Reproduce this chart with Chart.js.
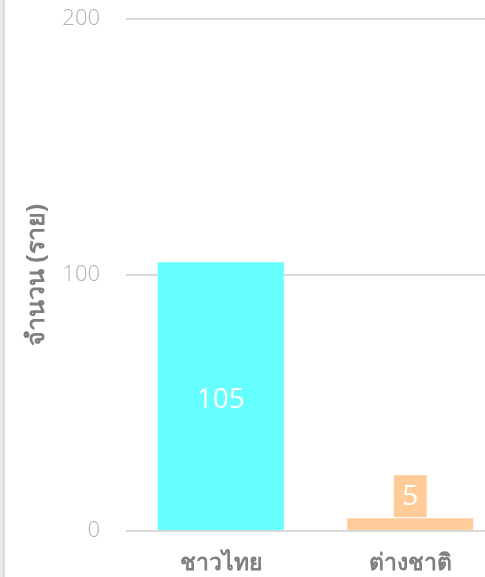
<!DOCTYPE html>
<html>
<head>
<meta charset="utf-8">
<script src="https://cdn.jsdelivr.net/npm/chart.js@4"></script>
<style>
html,body{margin:0;padding:0;background:#fff;overflow:hidden;width:485px;height:577px;}
#wrap{position:absolute;left:0;top:-20px;width:505px;height:597px;}
#edge{position:absolute;left:0;top:0;width:3px;height:577px;background:#ece9e5;border-right:2px solid #dedad5;z-index:2;}
</style>
</head>
<body>
<div id="edge"></div>
<div id="wrap"><canvas id="c" width="505" height="597"></canvas></div>
<script>
const categories = ["ชาวไทย", "ต่างชาติ"];
const values = [105, 5];
const barColors = ["#66ffff", "#ffcc99"];
const yTicks = [0, 100, 200];
const axisTitle = "จำนวน (ราย)";

const FONT = "'Open Sans', 'Noto Sans', 'DejaVu Sans', sans-serif";

const labelPlugin = {
  id: 'valueLabels',
  afterDatasetsDraw(chart) {
    const ctx = chart.ctx;
    const meta = chart.getDatasetMeta(0);
    ctx.save();
    ctx.font = "28px " + FONT;
    ctx.textAlign = 'center';
    ctx.textBaseline = 'middle';
    meta.data.forEach((bar, i) => {
      const txt = String(values[i]);
      const h = bar.base - bar.y;
      const boxH = 42, boxW = ctx.measureText(txt).width + 17;
      let cy;
      if (h >= boxH) {
        cy = bar.y + h / 2 + 3;
      } else {
        cy = bar.y - 1 - boxH / 2;
      }
      ctx.fillStyle = barColors[i];
      ctx.fillRect(bar.x - boxW / 2, cy - boxH / 2, boxW, boxH);
      ctx.fillStyle = '#ffffff';
      ctx.fillText(txt, bar.x, cy + 1);
    });
    ctx.restore();
  }
};

new Chart(document.getElementById('c'), {
  type: 'bar',
  data: {
    labels: categories,
    datasets: [{
      data: values,
      backgroundColor: barColors,
      borderWidth: 0,
      categoryPercentage: 1,
      barPercentage: 0.665
    }]
  },
  options: {
    responsive: false,
    animation: false,
    events: [],
    layout: { padding: { top: 0, right: 0, left: 0, bottom: 0 } },
    plugins: { legend: { display: false }, tooltip: { enabled: false } },
    scales: {
      x: {
        grid: { display: false, drawTicks: false },
        border: { display: false },
        ticks: { color: '#7f7f7f', font: { family: FONT, size: 23, weight: '600' }, padding: 19 },
        afterFit(s) { s.height = 46; }
      },
      y: {
        min: 0, max: 200,
        afterBuildTicks(s) { s.ticks = yTicks.map(v => ({ value: v })); },
        grid: { color: '#d9d9d9', lineWidth: 2, drawTicks: false },
        border: { display: false },
        ticks: { color: '#b0b0b0', font: { family: FONT, size: 22, weight: '300' }, padding: 26 },
        title: { display: true, text: axisTitle, color: '#7f7f7f', font: { family: FONT, size: 25, weight: 'bold' }, padding: { top: 22, bottom: 0 } },
        afterFit(s) { s.width = 126; }
      }
    }
  },
  plugins: [labelPlugin]
});
</script>
</body>
</html>
